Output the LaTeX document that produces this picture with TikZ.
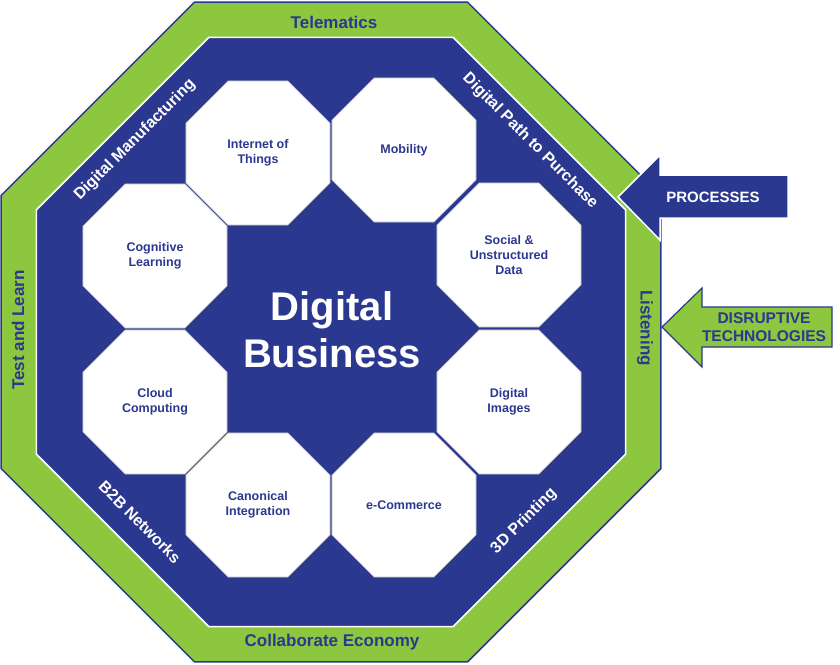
\documentclass[tikz,border=0pt]{standalone}
\usepackage{fontspec}
\setmainfont{Liberation Sans}
\usetikzlibrary{shapes.geometric}
\definecolor{dblue}{RGB}{43,56,143}
\definecolor{lgreen}{RGB}{141,198,63}
\tikzset{
  oct/.style={regular polygon, regular polygon sides=8, inner sep=0pt},
  small/.style={oct, fill=white, draw=black!25, line width=0.8pt, minimum size=156pt, text=dblue, font=\bfseries\fontsize{12.5}{15}\selectfont, align=center},
  ring/.style={text=dblue, font=\bfseries\fontsize{17}{20}\selectfont},
  band/.style={text=white, font=\bfseries\fontsize{16}{19}\selectfont}
}
\begin{document}
\begin{tikzpicture}[x=1pt,y=-1pt]
\useasboundingbox (0,0) rectangle (840,664);
\node[oct, fill=lgreen, draw=dblue, line width=1.5pt, minimum size=714pt] (outer) at (331,332) {};
\node[oct, fill=dblue, draw=white, line width=1.5pt, minimum size=638pt] (inner) at (331,332) {};
\node[small] (iot) at (258,153) {Internet of\\Things};
\node[small] (mob) at (404,150) {Mobility};
\node[small] (soc) at (509,255) {Social \&\\Unstructured\\Data};
\node[small] (img) at (509,402) {Digital\\Images};
\node[small] (ecom) at (404,505) {e-Commerce};
\node[small] (can) at (258,505) {Canonical\\Integration};
\node[small] (cloud) at (155,402) {Cloud\\Computing};
\node[small] (cog) at (155,256) {Cognitive\\Learning};
\node[text=white, font=\bfseries\fontsize{40}{47}\selectfont, align=center] (db) at (332,330) {Digital\\Business};
\node[ring] (tel) at (334,22) {Telematics};
\node[ring] (col) at (332,642) {Collaborate Economy};
\node[ring, rotate=90] (tl) at (18,330) {Test and Learn};
\node[ring, rotate=-90] (lis) at (645,328) {Listening};
\node[band, rotate=45] (dm) at (135,140) {Digital Manufacturing};
\node[band, rotate=-45] (dp) at (530,141) {Digital Path to Purchase};
\node[band, rotate=-45] (b2b) at (140,522) {B2B Networks};
\node[band, rotate=45] (p3d) at (524,521) {3D Printing};
% arrows
\draw[fill=dblue, draw=white, line width=1.5pt] (788,175) -- (660,175) -- (660,155) -- (618,197) -- (660,240) -- (660,218) -- (788,218) -- cycle;
\node[text=white, font=\bfseries\fontsize{15}{17}\selectfont] (proc) at (713,197) {PROCESSES};
\draw[fill=lgreen, draw=dblue, line width=1.2pt] (832,307) -- (702,307) -- (702,288) -- (662,327) -- (702,367) -- (702,347) -- (832,347) -- cycle;
\node[text=dblue, font=\bfseries\fontsize{15.5}{18}\selectfont, align=center] (dis) at (764,327) {DISRUPTIVE\\TECHNOLOGIES};
\end{tikzpicture}
\end{document}
